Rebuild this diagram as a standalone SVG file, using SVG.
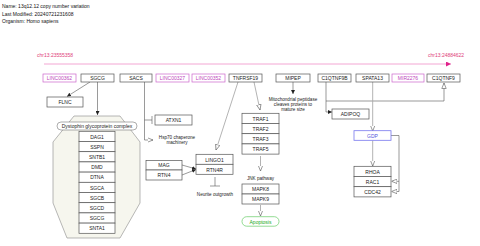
<svg xmlns="http://www.w3.org/2000/svg" width="480" height="246" viewBox="0 0 480 246">
  <style>
    text { font-family: "Liberation Sans", Arial, sans-serif; font-size: 5px; fill: #222; }
    .hdr { font-size: 5px; fill: #111; }
    .lbl { text-anchor: middle; dominant-baseline: central; }
    .box { fill: #fff; stroke: #555; stroke-width: 0.7; }
    .rna { fill: #fff; stroke: #cc66cc; stroke-width: 0.7; }
    .rnat { fill: #bb44bb; }
    .gdp { fill: #fff; stroke: #7777ee; stroke-width: 0.8; }
    .note { text-anchor: middle; font-size: 4.6px; }
    .ln { fill: none; stroke: #555; stroke-width: 0.6; }
    .lg { fill: none; stroke: #aaa; stroke-width: 0.9; }
    .chr { fill: #e0407a; font-size: 5px; }
  </style>
  <defs>
    <marker id="arrFill" viewBox="0 0 10 10" refX="10" refY="5" markerWidth="4" markerHeight="4" orient="auto" markerUnits="userSpaceOnUse">
      <path d="M0,0 L10,5 L0,10 z" fill="#222"/>
    </marker>
    <marker id="arrOpen" viewBox="0 0 10 10" refX="10" refY="5" markerWidth="5.5" markerHeight="5.5" orient="auto" markerUnits="userSpaceOnUse">
      <path d="M0,1 L10,5 L0,9 z" fill="#fff" stroke="#666" stroke-width="1.2"/>
    </marker>
    <marker id="arrChr" viewBox="0 0 10 10" refX="10" refY="5" markerWidth="5" markerHeight="5" orient="auto" markerUnits="userSpaceOnUse">
      <path d="M0,0 L10,5 L0,10 z" fill="#e0208a"/>
    </marker>
  </defs>

  <!-- header -->
  <text class="hdr" x="2" y="8">Name: 13q12.12 copy number variation</text>
  <text class="hdr" x="2" y="15.5">Last Modified: 20240721231608</text>
  <text class="hdr" x="2" y="23">Organism: Homo sapiens</text>

  <!-- chromosome band -->
  <text class="chr" x="37" y="57">chr13:23555358</text>
  <text class="chr" x="428" y="57">chr13:24884622</text>
  <line x1="44" y1="64" x2="451" y2="64" stroke="#f090c8" stroke-width="0.8" marker-end="url(#arrChr)"/>

  <!-- complex -->
  <g id="dgc-complex">
    <polygon points="74,116 120,116 140,142 140,203 120,238 67,238 53,203 53,142" fill="#f6f6ee" stroke="#888" stroke-width="0.6"/>
    <rect x="57" y="122" width="80" height="8" rx="4" fill="#fff" stroke="#777" stroke-width="0.6"/>
    <text class="lbl" x="97" y="126.2">Dystophin glycoprotein complex</text>
  </g>

  <!-- connectors -->
  <g id="connectors">
    <line class="ln" x1="90" y1="82" x2="67" y2="96.5" marker-end="url(#arrFill)"/>
    <line class="ln" x1="97.5" y1="82" x2="97.5" y2="115" marker-end="url(#arrFill)"/>
    <!-- SACS -->
    <polyline class="ln" points="144.5,82 144.5,140 153,140" marker-end="url(#arrOpen)"/>
    <line class="ln" x1="144.5" y1="120" x2="152" y2="120"/>
    <line class="ln" x1="152" y1="116" x2="152" y2="124"/>
    <!-- TNFRSF19 -->
    <line class="lg" x1="238" y1="82" x2="216" y2="150" marker-end="url(#arrOpen)"/>
    <line class="lg" x1="254" y1="82" x2="260" y2="110" marker-end="url(#arrOpen)"/>
    <!-- MAG / RTN4 -->
    <line class="ln" x1="182" y1="165" x2="196" y2="169" marker-end="url(#arrFill)"/>
    <line class="ln" x1="182" y1="175" x2="196" y2="169.5" marker-end="url(#arrFill)"/>
    <!-- RTN4R tee -->
    <line class="ln" x1="215" y1="177" x2="215" y2="186"/>
    <line class="ln" x1="210" y1="186" x2="220" y2="186"/>
    <!-- TRAF / MAPK -->
    <line class="lg" x1="260.5" y1="156" x2="260.5" y2="171" marker-end="url(#arrOpen)"/>
    <line class="lg" x1="260.5" y1="205" x2="260.5" y2="216" marker-end="url(#arrOpen)"/>
    <!-- MIPEP -->
    <line class="ln" x1="293" y1="82" x2="293" y2="94" marker-end="url(#arrFill)"/>
    <!-- C1QTNF9B -->
    <polyline class="ln" points="326,82 326,101 444,101 444,83" marker-end="url(#arrOpen)"/>
    <polyline class="ln" points="326,101 326,112 332,112" marker-end="url(#arrFill)"/>
    <!-- SPATA13 / GDP -->
    <line class="lg" x1="372.7" y1="82" x2="372.7" y2="131" marker-end="url(#arrOpen)"/>
    <line class="lg" x1="372.7" y1="140.5" x2="372.7" y2="166" marker-end="url(#arrOpen)"/>
    <polyline class="ln" points="391,135.5 399,135.5 399,191.5 391.5,191.5" marker-end="url(#arrOpen)"/>
    <line class="ln" x1="399" y1="181.3" x2="391.5" y2="181.3" marker-end="url(#arrOpen)"/>
  </g>

  <!-- top row genes -->
  <g id="LINC00362"><rect class="rna" x="43" y="74" width="33" height="8"/><text class="lbl rnat" x="59.5" y="78.2">LINC00362</text></g>
  <g id="SGCG-top"><rect class="box" x="81" y="74" width="33" height="8"/><text class="lbl" x="97.5" y="78.2">SGCG</text></g>
  <g id="SACS"><rect class="box" x="120" y="74" width="32" height="8"/><text class="lbl" x="136" y="78.2">SACS</text></g>
  <g id="LINC00327"><rect class="rna" x="156" y="74" width="33" height="8"/><text class="lbl rnat" x="172.5" y="78.2">LINC00327</text></g>
  <g id="LINC00352"><rect class="rna" x="192" y="74" width="33" height="8"/><text class="lbl rnat" x="208.5" y="78.2">LINC00352</text></g>
  <g id="TNFRSF19"><rect class="box" x="229" y="74" width="33" height="8"/><text class="lbl" x="245.5" y="78.2">TNFRSF19</text></g>
  <g id="MIPEP"><rect class="box" x="276" y="74" width="34" height="8"/><text class="lbl" x="293" y="78.2">MIPEP</text></g>
  <g id="C1QTNF9B"><rect class="box" x="318" y="74" width="33" height="8"/><text class="lbl" x="334.5" y="78.2">C1QTNF9B</text></g>
  <g id="SPATA13"><rect class="box" x="356" y="74" width="33" height="8"/><text class="lbl" x="372.5" y="78.2">SPATA13</text></g>
  <g id="MIR2276"><rect class="rna" x="392" y="74" width="32" height="8"/><text class="lbl rnat" x="408" y="78.2">MIR2276</text></g>
  <g id="C1QTNF9"><rect class="box" x="427" y="74" width="33" height="8"/><text class="lbl" x="443.5" y="78.2">C1QTNF9</text></g>

  <g id="FLNC"><rect class="box" x="47" y="97" width="36" height="10"/><text class="lbl" x="65" y="102.2">FLNC</text></g>

  <!-- complex members -->
  <g id="DAG1"><rect class="box" x="79" y="131.3" width="36" height="10.2"/><text class="lbl" x="97" y="136.6">DAG1</text></g>
  <g id="SSPN"><rect class="box" x="79" y="141.5" width="36" height="10.2"/><text class="lbl" x="97" y="146.8">SSPN</text></g>
  <g id="SNTB1"><rect class="box" x="79" y="151.7" width="36" height="10.2"/><text class="lbl" x="97" y="157">SNTB1</text></g>
  <g id="DMD"><rect class="box" x="79" y="161.9" width="36" height="10.2"/><text class="lbl" x="97" y="167.2">DMD</text></g>
  <g id="DTNA"><rect class="box" x="79" y="172.1" width="36" height="10.2"/><text class="lbl" x="97" y="177.4">DTNA</text></g>
  <g id="SGCA"><rect class="box" x="79" y="182.3" width="36" height="10.2"/><text class="lbl" x="97" y="187.6">SGCA</text></g>
  <g id="SGCB"><rect class="box" x="79" y="192.5" width="36" height="10.2"/><text class="lbl" x="97" y="197.8">SGCB</text></g>
  <g id="SGCD"><rect class="box" x="79" y="202.7" width="36" height="10.2"/><text class="lbl" x="97" y="208">SGCD</text></g>
  <g id="SGCG"><rect class="box" x="79" y="212.9" width="36" height="10.2"/><text class="lbl" x="97" y="218.2">SGCG</text></g>
  <g id="SNTA1"><rect class="box" x="79" y="223.1" width="36" height="10.2"/><text class="lbl" x="97" y="228.4">SNTA1</text></g>

  <g id="ATXN1"><rect class="box" x="155" y="115" width="37" height="10"/><text class="lbl" x="173.5" y="120.2">ATXN1</text></g>
  <g id="hsp70-label"><text class="note" x="177" y="139">Hsp70 chaperone</text><text class="note" x="177" y="144">machinery</text></g>

  <g id="MAG"><rect class="box" x="146" y="160.5" width="36" height="9.5"/><text class="lbl" x="164" y="165.4">MAG</text></g>
  <g id="RTN4"><rect class="box" x="146" y="170" width="36" height="10"/><text class="lbl" x="164" y="175.2">RTN4</text></g>

  <g id="LINGO1"><rect class="box" x="196" y="154.3" width="37" height="10"/><text class="lbl" x="214.5" y="159.5">LINGO1</text></g>
  <g id="RTN4R"><rect class="box" x="196" y="164.3" width="37" height="10"/><text class="lbl" x="214.5" y="169.5">RTN4R</text></g>
  <g id="neurite-label"><text class="note" x="215" y="195.5">Neurite outgrowth</text></g>

  <g id="TRAF1"><rect class="box" x="242" y="113.3" width="37" height="10.2"/><text class="lbl" x="260.5" y="118.6">TRAF1</text></g>
  <g id="TRAF2"><rect class="box" x="242" y="123.5" width="37" height="10.2"/><text class="lbl" x="260.5" y="128.8">TRAF2</text></g>
  <g id="TRAF3"><rect class="box" x="242" y="133.7" width="37" height="10.2"/><text class="lbl" x="260.5" y="139">TRAF3</text></g>
  <g id="TRAF5"><rect class="box" x="242" y="143.9" width="37" height="10.2"/><text class="lbl" x="260.5" y="149.2">TRAF5</text></g>
  <g id="jnk-label"><text class="note" x="260.5" y="179.5">JNK pathway</text></g>
  <g id="MAPK8"><rect class="box" x="242" y="184" width="37" height="10"/><text class="lbl" x="260.5" y="189.2">MAPK8</text></g>
  <g id="MAPK9"><rect class="box" x="242" y="194" width="37" height="10"/><text class="lbl" x="260.5" y="199.2">MAPK9</text></g>
  <g id="Apoptosis"><rect x="242" y="216.7" width="37" height="9.5" rx="4.7" fill="#fff" stroke="#66cc66" stroke-width="0.7"/><text class="lbl" x="260.5" y="221.6" style="fill:#22aa22">Apoptosis</text></g>

  <g id="mipep-label">
    <text class="note" x="293" y="101">Mitochondrial peptidase</text>
    <text class="note" x="293" y="106">cleaves proteins to</text>
    <text class="note" x="293" y="111">mature size</text>
  </g>

  <g id="ADIPOQ"><rect class="box" x="332" y="109" width="37" height="10"/><text class="lbl" x="350.5" y="114.2">ADIPOQ</text></g>
  <g id="GDP"><rect class="gdp" x="354" y="130.7" width="37" height="9.6"/><text class="lbl" x="372.5" y="135.7" style="fill:#5555dd">GDP</text></g>
  <g id="RHOA"><rect class="box" x="354" y="166.3" width="37" height="10.2"/><text class="lbl" x="372.5" y="171.6">RHOA</text></g>
  <g id="RAC1"><rect class="box" x="354" y="176.5" width="37" height="10.2"/><text class="lbl" x="372.5" y="181.8">RAC1</text></g>
  <g id="CDC42"><rect class="box" x="354" y="186.7" width="37" height="10.2"/><text class="lbl" x="372.5" y="192">CDC42</text></g>
</svg>
